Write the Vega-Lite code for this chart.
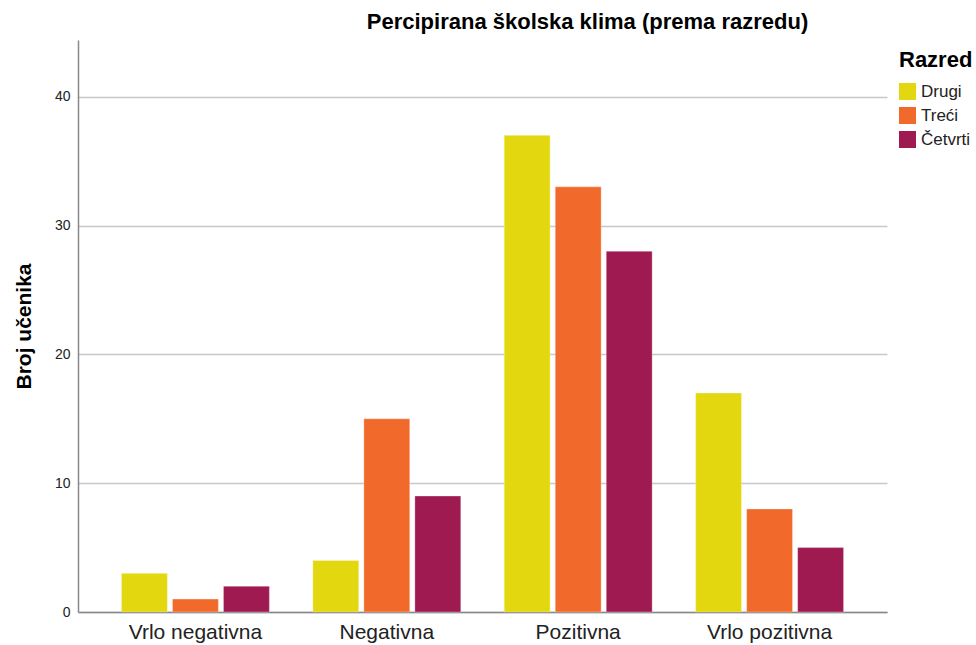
{
  "$schema": "https://vega.github.io/schema/vega-lite/v6.json",
  "width": 809,
  "height": 572,
  "autosize": {"type": "none"},
  "padding": {"left": 78, "top": 40, "right": 89, "bottom": 33},
  "background": "white",
  "config": {
    "font": "Liberation Sans",
    "view": {"stroke": null}
  },
  "title": {
    "text": "Percipirana školska klima (prema razredu)",
    "fontSize": 22,
    "fontWeight": "bold",
    "color": "#000000",
    "anchor": "middle",
    "dx": 105,
    "offset": 6
  },
  "data": {
    "values": [
      {"klima": "Vrlo negativna", "razred": "Drugi", "broj": 3},
      {"klima": "Vrlo negativna", "razred": "Treći", "broj": 1},
      {"klima": "Vrlo negativna", "razred": "Četvrti", "broj": 2},
      {"klima": "Negativna", "razred": "Drugi", "broj": 4},
      {"klima": "Negativna", "razred": "Treći", "broj": 15},
      {"klima": "Negativna", "razred": "Četvrti", "broj": 9},
      {"klima": "Pozitivna", "razred": "Drugi", "broj": 37},
      {"klima": "Pozitivna", "razred": "Treći", "broj": 33},
      {"klima": "Pozitivna", "razred": "Četvrti", "broj": 28},
      {"klima": "Vrlo pozitivna", "razred": "Drugi", "broj": 17},
      {"klima": "Vrlo pozitivna", "razred": "Treći", "broj": 8},
      {"klima": "Vrlo pozitivna", "razred": "Četvrti", "broj": 5}
    ]
  },
  "mark": {"type": "bar", "stroke": "#ffffff", "strokeWidth": 0.5, "strokeOpacity": 0.6},
  "encoding": {
    "x": {
      "field": "klima",
      "type": "nominal",
      "sort": ["Vrlo negativna", "Negativna", "Pozitivna", "Vrlo pozitivna"],
      "scale": {"paddingInner": 0.227, "paddingOuter": 0.227},
      "axis": {
        "title": null,
        "labelAngle": 0,
        "labelFontSize": 21,
        "labelColor": "#222222",
        "labelPadding": 9,
        "ticks": false,
        "domainColor": "#888888",
        "domainWidth": 1.5,
        "grid": false
      }
    },
    "xOffset": {
      "field": "razred",
      "type": "nominal",
      "sort": ["Drugi", "Treći", "Četvrti"],
      "scale": {"paddingInner": 0.1, "paddingOuter": 0}
    },
    "y": {
      "field": "broj",
      "type": "quantitative",
      "scale": {"domain": [0, 44.4], "nice": false},
      "axis": {
        "title": "Broj učenika",
        "titleFontSize": 21,
        "titleFontWeight": "bold",
        "titleColor": "#000000",
        "titlePadding": 20,
        "values": [0, 10, 20, 30, 40],
        "labelFontSize": 14,
        "labelColor": "#222222",
        "labelPadding": 8,
        "ticks": false,
        "domainColor": "#888888",
        "domainWidth": 1.5,
        "grid": true,
        "gridColor": "#c8c8c8",
        "gridWidth": 1.5
      }
    },
    "color": {
      "field": "razred",
      "type": "nominal",
      "sort": ["Drugi", "Treći", "Četvrti"],
      "scale": {
        "domain": ["Drugi", "Treći", "Četvrti"],
        "range": ["#e3d80f", "#f26a2b", "#a01a52"]
      },
      "legend": {
        "title": "Razred",
        "titleFontSize": 22,
        "titleFontWeight": "bold",
        "titleColor": "#000000",
        "titlePadding": 11,
        "orient": "none",
        "legendX": 821,
        "legendY": 10,
        "symbolType": "square",
        "symbolSize": 289,
        "symbolStrokeWidth": 0,
        "labelFontSize": 17,
        "labelColor": "#222222",
        "labelOffset": 5,
        "rowPadding": 6
      }
    }
  }
}
